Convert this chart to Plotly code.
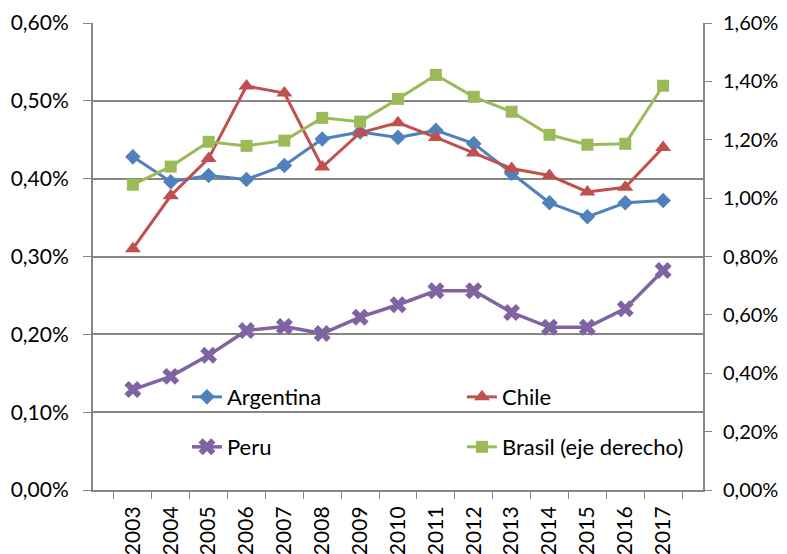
import plotly.graph_objects as go

years = [str(y) for y in range(2003, 2018)]
# values in percent
argentina = [0.428, 0.396, 0.404, 0.399, 0.417, 0.451, 0.460, 0.453, 0.462, 0.445, 0.407, 0.369, 0.351, 0.369, 0.372]
chile = [0.310, 0.378, 0.426, 0.519, 0.510, 0.415, 0.459, 0.472, 0.453, 0.433, 0.413, 0.404, 0.383, 0.389, 0.440]
peru = [0.129, 0.146, 0.173, 0.205, 0.210, 0.201, 0.222, 0.238, 0.256, 0.256, 0.228, 0.209, 0.209, 0.233, 0.282]
brasil = [1.046, 1.108, 1.193, 1.179, 1.197, 1.275, 1.262, 1.340, 1.422, 1.347, 1.296, 1.217, 1.183, 1.186, 1.385]

left_ticks = [0, 0.1, 0.2, 0.3, 0.4, 0.5, 0.6]
right_ticks = [0, 0.2, 0.4, 0.6, 0.8, 1.0, 1.2, 1.4, 1.6]

def frac(v):
    return [x / 100 for x in v]

fnt = "Lato, Open Sans, sans-serif"
axcol = "#868686"

fig = go.Figure()
fig.add_trace(go.Scatter(x=years, y=frac(argentina), name="Argentina", mode="lines+markers",
                         line=dict(color="#4F81BD", width=3),
                         marker=dict(symbol="diamond", size=12, color="#4F81BD"), legend="legend"))
fig.add_trace(go.Scatter(x=years, y=frac(chile), name="Chile", mode="lines+markers",
                         line=dict(color="#C0504D", width=3),
                         marker=dict(symbol="triangle-up", size=14, color="#C0504D"), legend="legend"))
fig.add_trace(go.Scatter(x=years, y=frac(peru), name="Peru", mode="lines+markers",
                         line=dict(color="#8064A2", width=3.5),
                         marker=dict(symbol="x", size=15, color="#8064A2"), legend="legend2"))
fig.add_trace(go.Scatter(x=years, y=frac(brasil), name="Brasil (eje derecho)", mode="lines+markers",
                         line=dict(color="#9BBB59", width=3),
                         marker=dict(symbol="square", size=12, color="#9BBB59"),
                         yaxis="y2", legend="legend2"))

leg = dict(orientation="h", bgcolor="rgba(0,0,0,0)", font=dict(family=fnt, size=22, color="#000"),
           entrywidth=230, entrywidthmode="pixels", xanchor="left", yanchor="middle")

# page body adds 8px on the left/top, so the figure is 8px smaller to fit the window
fig.update_layout(
    width=779, height=546,
    margin=dict(l=85, r=84, t=15, b=64),
    plot_bgcolor="white", paper_bgcolor="white",
    separators=",.",
    font=dict(family=fnt, size=21, color="#000"),
    legend=dict(leg, x=0.154, y=0.199),
    legend2=dict(leg, x=0.154, y=0.092),
    xaxis=dict(type="category", tickangle=-90, showline=True, linecolor=axcol, linewidth=2,
               ticks="outside", tickson="boundaries", ticklen=7, tickcolor=axcol,
               showgrid=False, automargin=False, ticklabelstandoff=6),
    yaxis=dict(range=[0, 0.006], tickvals=frac(left_ticks), tickformat=".2%",
               showline=True, linecolor=axcol, linewidth=2, ticks="outside", ticklen=8,
               tickcolor=axcol, showgrid=True, gridcolor=axcol, gridwidth=1.5, zeroline=False,
               automargin=False, ticklabelstandoff=10),
    yaxis2=dict(range=[0, 0.016], tickvals=frac(right_ticks), tickformat=".2%",
                overlaying="y", side="right", showline=True, linecolor=axcol, linewidth=2,
                ticks="outside", ticklen=7, tickcolor=axcol, showgrid=False, zeroline=False,
                automargin=False, ticklabelstandoff=7, tickfont=dict(size=20)),
)

fig.write_html("out.html")
